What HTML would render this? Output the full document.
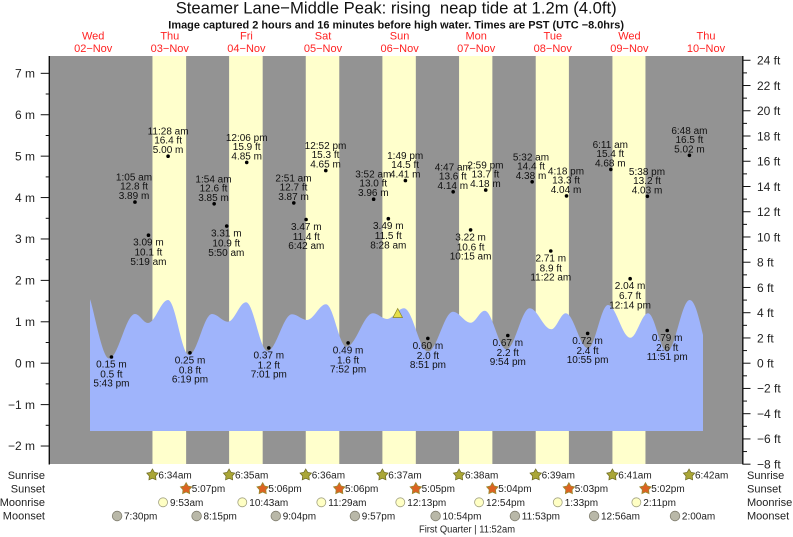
<!DOCTYPE html>
<html><head><meta charset="utf-8"><style>
html,body{margin:0;padding:0;background:#fff;}
svg{display:block;}
text{font-family:"Liberation Sans",Arial,sans-serif;}
.pre{white-space:pre;}
</style></head><body>
<svg width="793" height="537" viewBox="0 0 793 537" xmlns="http://www.w3.org/2000/svg">
<rect width="793" height="537" fill="#fff"/>
<!-- title -->
<text class="pre" x="175.7" y="13.5" font-size="17" fill="#111" textLength="441" lengthAdjust="spacingAndGlyphs">Steamer Lane−Middle Peak: rising  neap tide at 1.2m (4.0ft)</text>
<text x="168.3" y="28.3" font-size="11" font-weight="bold" fill="#111" textLength="455.7" lengthAdjust="spacingAndGlyphs">Image captured 2 hours and 16 minutes before high water. Times are PST (UTC −8.0hrs)</text>
<!-- day labels -->
<g font-size="11" fill="#f22" text-anchor="middle">
<text x="93.2" y="39.4">Wed</text><text x="93.2" y="51.8">02−Nov</text>
<text x="169.8" y="39.4">Thu</text><text x="169.8" y="51.8">03−Nov</text>
<text x="246.4" y="39.4">Fri</text><text x="246.4" y="51.8">04−Nov</text>
<text x="323" y="39.4">Sat</text><text x="323" y="51.8">05−Nov</text>
<text x="399.6" y="39.4">Sun</text><text x="399.6" y="51.8">06−Nov</text>
<text x="476.2" y="39.4">Mon</text><text x="476.2" y="51.8">07−Nov</text>
<text x="552.8" y="39.4">Tue</text><text x="552.8" y="51.8">08−Nov</text>
<text x="629.4" y="39.4">Wed</text><text x="629.4" y="51.8">09−Nov</text>
<text x="706" y="39.4">Thu</text><text x="706" y="51.8">10−Nov</text>
</g>
<!-- plot background -->
<rect x="50" y="56" width="693" height="408" fill="#939393"/>
<g fill="#ffffcc">
<rect x="152.46" y="56" width="33.67" height="408"/>
<rect x="229.1" y="56" width="33.58" height="408"/>
<rect x="305.76" y="56" width="33.52" height="408"/>
<rect x="382.4" y="56" width="33.42" height="408"/>
<rect x="459.07" y="56" width="33.3" height="408"/>
<rect x="535.72" y="56" width="33.18" height="408"/>
<rect x="612.43" y="56" width="33.03" height="408"/>
</g>
<!-- tide area -->
<path fill="#9fb4fb" d="M90,431 L90,299.3 C94,310 102.2,358.5 109,358.5 C118.4,358.5 125.6,314 135,314 C139.7,314 143.3,323 148,323 C155.2,323 160.8,300 168,300 C175.6,300 181.4,355 189,355 C197.3,355 203.7,314 212,314 C217.8,314 222.2,321.7 228,321.7 C234.5,321.7 239.5,302.3 246,302.3 C253.7,302.3 259.8,351 267.5,351 C276.3,351 283.2,314.3 292,314.3 C297.4,314.3 301.6,320 307,320 C313.8,320 319.2,304.3 326,304.3 C333.4,304.3 339.1,346.7 346.5,346.7 C356,346.7 363.5,313.3 373,313.3 C378,313.3 382,319 387,319 C393.1,319 397.9,308.3 404,308.3 C412.6,308.3 419.4,351.5 428,351.5 C437,351.5 444,311.7 453,311.7 C459.4,311.7 464.3,322.7 470.7,322.7 C475.7,322.7 479.7,310.7 484.7,310.7 C492.5,310.7 498.7,349.3 506.5,349.3 C514.9,349.3 521.4,308.3 529.7,308.3 C537.5,308.3 543.5,329.3 551.3,329.3 C556.5,329.3 560.5,313.3 565.7,313.3 C573.7,313.3 580,348.3 588,348.3 C595.2,348.3 600.8,305 608,305 C616,305 622.3,337.7 630.3,337.7 C636.7,337.7 641.6,313.3 648,313.3 C654.8,313.3 660.2,351.7 667,351.7 C675.2,351.7 681.5,300 689.7,300 C695,300 699,318 703,335 L703,431 Z"/>
<!-- current marker -->
<polygon points="397.7,308.5 393,317.5 402.5,317.5" fill="#e6e04a" stroke="#8a8420" stroke-width="0.7"/>
<!-- axes -->
<g stroke="#111" stroke-width="1.4">
<line x1="49.3" y1="56" x2="49.3" y2="464.5"/>
<line x1="742.8" y1="56" x2="742.8" y2="464.5"/>
</g>
<g stroke="#111" stroke-width="1">
<line x1="40.7" y1="73.33" x2="49" y2="73.33"/><line x1="45.7" y1="94.0" x2="49" y2="94.0"/>
<line x1="40.7" y1="114.74" x2="49" y2="114.74"/><line x1="45.7" y1="135.5" x2="49" y2="135.5"/>
<line x1="40.7" y1="156.15" x2="49" y2="156.15"/><line x1="45.7" y1="176.9" x2="49" y2="176.9"/>
<line x1="40.7" y1="197.56" x2="49" y2="197.56"/><line x1="45.7" y1="218.3" x2="49" y2="218.3"/>
<line x1="40.7" y1="238.97" x2="49" y2="238.97"/><line x1="45.7" y1="259.7" x2="49" y2="259.7"/>
<line x1="40.7" y1="280.38" x2="49" y2="280.38"/><line x1="45.7" y1="301.1" x2="49" y2="301.1"/>
<line x1="40.7" y1="321.79" x2="49" y2="321.79"/><line x1="45.7" y1="342.5" x2="49" y2="342.5"/>
<line x1="40.7" y1="363.2" x2="49" y2="363.2"/><line x1="45.7" y1="383.9" x2="49" y2="383.9"/>
<line x1="40.7" y1="404.61" x2="49" y2="404.61"/><line x1="45.7" y1="425.3" x2="49" y2="425.3"/>
<line x1="40.7" y1="446.02" x2="49" y2="446.02"/>
<!-- right ticks -->
<line x1="743" y1="60.27" x2="750.5" y2="60.27"/><line x1="743" y1="72.89" x2="747" y2="72.89"/>
<line x1="743" y1="85.52" x2="750.5" y2="85.52"/><line x1="743" y1="98.14" x2="747" y2="98.14"/>
<line x1="743" y1="110.76" x2="750.5" y2="110.76"/><line x1="743" y1="123.38" x2="747" y2="123.38"/>
<line x1="743" y1="136.0" x2="750.5" y2="136.0"/><line x1="743" y1="148.63" x2="747" y2="148.63"/>
<line x1="743" y1="161.25" x2="750.5" y2="161.25"/><line x1="743" y1="173.87" x2="747" y2="173.87"/>
<line x1="743" y1="186.49" x2="750.5" y2="186.49"/><line x1="743" y1="199.11" x2="747" y2="199.11"/>
<line x1="743" y1="211.74" x2="750.5" y2="211.74"/><line x1="743" y1="224.36" x2="747" y2="224.36"/>
<line x1="743" y1="236.98" x2="750.5" y2="236.98"/><line x1="743" y1="249.6" x2="747" y2="249.6"/>
<line x1="743" y1="262.22" x2="750.5" y2="262.22"/><line x1="743" y1="274.85" x2="747" y2="274.85"/>
<line x1="743" y1="287.47" x2="750.5" y2="287.47"/><line x1="743" y1="300.09" x2="747" y2="300.09"/>
<line x1="743" y1="312.71" x2="750.5" y2="312.71"/><line x1="743" y1="325.33" x2="747" y2="325.33"/>
<line x1="743" y1="337.96" x2="750.5" y2="337.96"/><line x1="743" y1="350.58" x2="747" y2="350.58"/>
<line x1="743" y1="363.2" x2="750.5" y2="363.2"/><line x1="743" y1="375.82" x2="747" y2="375.82"/>
<line x1="743" y1="388.44" x2="750.5" y2="388.44"/><line x1="743" y1="401.07" x2="747" y2="401.07"/>
<line x1="743" y1="413.69" x2="750.5" y2="413.69"/><line x1="743" y1="426.31" x2="747" y2="426.31"/>
<line x1="743" y1="438.93" x2="750.5" y2="438.93"/><line x1="743" y1="451.55" x2="747" y2="451.55"/>
<line x1="743" y1="464.18" x2="750.5" y2="464.18"/>
</g>
<g font-size="12" fill="#222" text-anchor="end">
<text x="35" y="77.6">7 m</text>
<text x="35" y="119">6 m</text>
<text x="35" y="160.4">5 m</text>
<text x="35" y="201.8">4 m</text>
<text x="35" y="243.2">3 m</text>
<text x="35" y="284.6">2 m</text>
<text x="35" y="326">1 m</text>
<text x="35" y="367.4">0 m</text>
<text x="35" y="408.8">−1 m</text>
<text x="35" y="450.2">−2 m</text>
</g>
<g font-size="12" fill="#222">
<text x="757" y="64.5">24 ft</text>
<text x="757" y="89.8">22 ft</text>
<text x="757" y="115">20 ft</text>
<text x="757" y="140.3">18 ft</text>
<text x="757" y="165.5">16 ft</text>
<text x="757" y="190.8">14 ft</text>
<text x="757" y="216">12 ft</text>
<text x="757" y="241.3">10 ft</text>
<text x="757" y="266.5">8 ft</text>
<text x="757" y="291.8">6 ft</text>
<text x="757" y="317">4 ft</text>
<text x="757" y="342.3">2 ft</text>
<text x="757" y="367.5">0 ft</text>
<text x="757" y="392.7">−2 ft</text>
<text x="757" y="418">−4 ft</text>
<text x="757" y="443.2">−6 ft</text>
<text x="757" y="468.4">−8 ft</text>
</g>
<!-- dots -->
<g fill="#000">
<circle cx="111.45" cy="357.0" r="1.8"/><circle cx="134.96" cy="202.1" r="1.8"/>
<circle cx="148.47" cy="235.2" r="1.8"/><circle cx="168.1" cy="156.2" r="1.8"/>
<circle cx="189.96" cy="352.8" r="1.8"/><circle cx="214.16" cy="203.8" r="1.8"/>
<circle cx="226.72" cy="226.1" r="1.8"/><circle cx="246.72" cy="162.4" r="1.8"/>
<circle cx="268.8" cy="347.9" r="1.8"/><circle cx="293.8" cy="202.9" r="1.8"/>
<circle cx="306.08" cy="219.5" r="1.8"/><circle cx="325.77" cy="170.6" r="1.8"/>
<circle cx="348.11" cy="342.9" r="1.8"/><circle cx="373.64" cy="199.2" r="1.8"/>
<circle cx="388.32" cy="218.7" r="1.8"/><circle cx="405.4" cy="180.6" r="1.8"/>
<circle cx="427.85" cy="338.4" r="1.8"/><circle cx="453.17" cy="191.8" r="1.8"/>
<circle cx="470.61" cy="229.9" r="1.8"/><circle cx="485.72" cy="190.1" r="1.8"/>
<circle cx="507.8" cy="335.5" r="1.8"/><circle cx="532.16" cy="181.8" r="1.8"/>
<circle cx="550.78" cy="251.0" r="1.8"/><circle cx="566.52" cy="195.9" r="1.8"/>
<circle cx="587.64" cy="333.4" r="1.8"/><circle cx="610.83" cy="169.4" r="1.8"/>
<circle cx="630.14" cy="278.7" r="1.8"/><circle cx="647.38" cy="196.3" r="1.8"/>
<circle cx="667.22" cy="330.5" r="1.8"/><circle cx="689.4" cy="155.3" r="1.8"/>
</g>
<!-- high labels -->
<g font-size="10" fill="#111" text-anchor="middle">
<text x="134" y="180.6">1:05 am</text><text x="134" y="189.6">12.8 ft</text><text x="134" y="199.1">3.89 m</text>
<text x="168.1" y="134.7">11:28 am</text><text x="168.1" y="143.7">16.4 ft</text><text x="168.1" y="153.2">5.00 m</text>
<text x="213.5" y="182.3">1:54 am</text><text x="213.5" y="191.3">12.6 ft</text><text x="213.5" y="200.8">3.85 m</text>
<text x="246.7" y="140.9">12:06 pm</text><text x="246.7" y="149.9">15.9 ft</text><text x="246.7" y="159.4">4.85 m</text>
<text x="293.5" y="181.4">2:51 am</text><text x="293.5" y="190.4">12.7 ft</text><text x="293.5" y="199.9">3.87 m</text>
<text x="325.5" y="149.1">12:52 pm</text><text x="325.5" y="158.1">15.3 ft</text><text x="325.5" y="167.6">4.65 m</text>
<text x="373.3" y="177.7">3:52 am</text><text x="373.3" y="186.7">13.0 ft</text><text x="373.3" y="196.2">3.96 m</text>
<text x="405.2" y="159.1">1:49 pm</text><text x="405.2" y="168.1">14.5 ft</text><text x="405.2" y="177.6">4.41 m</text>
<text x="452.8" y="170.3">4:47 am</text><text x="452.8" y="179.3">13.6 ft</text><text x="452.8" y="188.8">4.14 m</text>
<text x="485.4" y="168.6">2:59 pm</text><text x="485.4" y="177.6">13.7 ft</text><text x="485.4" y="187.1">4.18 m</text>
<text x="531" y="160.3">5:32 am</text><text x="531" y="169.3">14.4 ft</text><text x="531" y="178.8">4.38 m</text>
<text x="566" y="174.4">4:18 pm</text><text x="566" y="183.4">13.3 ft</text><text x="566" y="192.9">4.04 m</text>
<text x="610.3" y="147.9">6:11 am</text><text x="610.3" y="156.9">15.4 ft</text><text x="610.3" y="166.4">4.68 m</text>
<text x="647" y="174.8">5:38 pm</text><text x="647" y="183.8">13.2 ft</text><text x="647" y="193.3">4.03 m</text>
<text x="689.4" y="133.8">6:48 am</text><text x="689.4" y="142.8">16.5 ft</text><text x="689.4" y="152.3">5.02 m</text>
</g>
<!-- low labels -->
<g font-size="10" fill="#111" text-anchor="middle">
<text x="111.4" y="367.5">0.15 m</text><text x="111.4" y="377.5">0.5 ft</text><text x="111.4" y="386.7">5:43 pm</text>
<text x="148.4" y="245.7">3.09 m</text><text x="148.4" y="255.7">10.1 ft</text><text x="148.4" y="264.9">5:19 am</text>
<text x="190" y="363.3">0.25 m</text><text x="190" y="373.3">0.8 ft</text><text x="190" y="382.5">6:19 pm</text>
<text x="226.3" y="236.6">3.31 m</text><text x="226.3" y="246.6">10.9 ft</text><text x="226.3" y="255.8">5:50 am</text>
<text x="268.8" y="358.4">0.37 m</text><text x="268.8" y="368.4">1.2 ft</text><text x="268.8" y="377.6">7:01 pm</text>
<text x="306.3" y="230">3.47 m</text><text x="306.3" y="240">11.4 ft</text><text x="306.3" y="249.2">6:42 am</text>
<text x="348.1" y="353.4">0.49 m</text><text x="348.1" y="363.4">1.6 ft</text><text x="348.1" y="372.6">7:52 pm</text>
<text x="388.3" y="229.2">3.49 m</text><text x="388.3" y="239.2">11.5 ft</text><text x="388.3" y="248.4">8:28 am</text>
<text x="427.9" y="348.9">0.60 m</text><text x="427.9" y="358.9">2.0 ft</text><text x="427.9" y="368.1">8:51 pm</text>
<text x="470.6" y="240.4">3.22 m</text><text x="470.6" y="250.4">10.6 ft</text><text x="470.6" y="259.6">10:15 am</text>
<text x="507.8" y="346">0.67 m</text><text x="507.8" y="356">2.2 ft</text><text x="507.8" y="365.2">9:54 pm</text>
<text x="550.8" y="261.5">2.71 m</text><text x="550.8" y="271.5">8.9 ft</text><text x="550.8" y="280.7">11:22 am</text>
<text x="587.6" y="343.9">0.72 m</text><text x="587.6" y="353.9">2.4 ft</text><text x="587.6" y="363.1">10:55 pm</text>
<text x="630.1" y="289.2">2.04 m</text><text x="630.1" y="299.2">6.7 ft</text><text x="630.1" y="308.4">12:14 pm</text>
<text x="667.2" y="341">0.79 m</text><text x="667.2" y="351">2.6 ft</text><text x="667.2" y="360.2">11:51 pm</text>
</g>
<!-- bottom row labels -->
<g font-size="11" fill="#222">
<text x="45" y="479" text-anchor="end">Sunrise</text>
<text x="45" y="492.5" text-anchor="end">Sunset</text>
<text x="45" y="506" text-anchor="end">Moonrise</text>
<text x="45" y="519.7" text-anchor="end">Moonset</text>
<text x="747" y="479">Sunrise</text>
<text x="747" y="492.5">Sunset</text>
<text x="747" y="506">Moonrise</text>
<text x="747" y="519.7">Moonset</text>
</g>
<!-- sunrise stars -->
<g fill="#aaa637" stroke="#6b6820" stroke-width="0.7">
<polygon transform="translate(152.46,475)" points="0,-6 1.94,-2.67 5.71,-1.85 3.14,1.02 3.53,4.85 0,3.3 -3.53,4.85 -3.14,1.02 -5.71,-1.85 -1.94,-2.67"/>
<polygon transform="translate(229.1,475)" points="0,-6 1.94,-2.67 5.71,-1.85 3.14,1.02 3.53,4.85 0,3.3 -3.53,4.85 -3.14,1.02 -5.71,-1.85 -1.94,-2.67"/>
<polygon transform="translate(305.76,475)" points="0,-6 1.94,-2.67 5.71,-1.85 3.14,1.02 3.53,4.85 0,3.3 -3.53,4.85 -3.14,1.02 -5.71,-1.85 -1.94,-2.67"/>
<polygon transform="translate(382.4,475)" points="0,-6 1.94,-2.67 5.71,-1.85 3.14,1.02 3.53,4.85 0,3.3 -3.53,4.85 -3.14,1.02 -5.71,-1.85 -1.94,-2.67"/>
<polygon transform="translate(459.07,475)" points="0,-6 1.94,-2.67 5.71,-1.85 3.14,1.02 3.53,4.85 0,3.3 -3.53,4.85 -3.14,1.02 -5.71,-1.85 -1.94,-2.67"/>
<polygon transform="translate(535.72,475)" points="0,-6 1.94,-2.67 5.71,-1.85 3.14,1.02 3.53,4.85 0,3.3 -3.53,4.85 -3.14,1.02 -5.71,-1.85 -1.94,-2.67"/>
<polygon transform="translate(612.43,475)" points="0,-6 1.94,-2.67 5.71,-1.85 3.14,1.02 3.53,4.85 0,3.3 -3.53,4.85 -3.14,1.02 -5.71,-1.85 -1.94,-2.67"/>
<polygon transform="translate(689.08,475)" points="0,-6 1.94,-2.67 5.71,-1.85 3.14,1.02 3.53,4.85 0,3.3 -3.53,4.85 -3.14,1.02 -5.71,-1.85 -1.94,-2.67"/>
</g>
<!-- sunset stars -->
<g fill="#dc6322" stroke="#9a8a30" stroke-width="0.8">
<polygon transform="translate(186.13,488.7)" points="0,-6 1.94,-2.67 5.71,-1.85 3.14,1.02 3.53,4.85 0,3.3 -3.53,4.85 -3.14,1.02 -5.71,-1.85 -1.94,-2.67"/>
<polygon transform="translate(262.68,488.7)" points="0,-6 1.94,-2.67 5.71,-1.85 3.14,1.02 3.53,4.85 0,3.3 -3.53,4.85 -3.14,1.02 -5.71,-1.85 -1.94,-2.67"/>
<polygon transform="translate(339.28,488.7)" points="0,-6 1.94,-2.67 5.71,-1.85 3.14,1.02 3.53,4.85 0,3.3 -3.53,4.85 -3.14,1.02 -5.71,-1.85 -1.94,-2.67"/>
<polygon transform="translate(415.82,488.7)" points="0,-6 1.94,-2.67 5.71,-1.85 3.14,1.02 3.53,4.85 0,3.3 -3.53,4.85 -3.14,1.02 -5.71,-1.85 -1.94,-2.67"/>
<polygon transform="translate(492.37,488.7)" points="0,-6 1.94,-2.67 5.71,-1.85 3.14,1.02 3.53,4.85 0,3.3 -3.53,4.85 -3.14,1.02 -5.71,-1.85 -1.94,-2.67"/>
<polygon transform="translate(568.9,488.7)" points="0,-6 1.94,-2.67 5.71,-1.85 3.14,1.02 3.53,4.85 0,3.3 -3.53,4.85 -3.14,1.02 -5.71,-1.85 -1.94,-2.67"/>
<polygon transform="translate(645.46,488.7)" points="0,-6 1.94,-2.67 5.71,-1.85 3.14,1.02 3.53,4.85 0,3.3 -3.53,4.85 -3.14,1.02 -5.71,-1.85 -1.94,-2.67"/>
</g>
<!-- moonrise -->
<g fill="#ffffc4" stroke="#a0a080" stroke-width="0.8">
<circle cx="163.04" cy="502.3" r="4.5"/><circle cx="242.3" cy="502.3" r="4.5"/>
<circle cx="321.34" cy="502.3" r="4.5"/><circle cx="400.29" cy="502.3" r="4.5"/>
<circle cx="479.07" cy="502.3" r="4.5"/><circle cx="557.74" cy="502.3" r="4.5"/>
<circle cx="636.37" cy="502.3" r="4.5"/>
</g>
<!-- moonset -->
<g fill="#b9b8a8" stroke="#807e70" stroke-width="0.8">
<circle cx="117.1" cy="516" r="4.8"/><circle cx="196.6" cy="516" r="4.8"/>
<circle cx="275.8" cy="516" r="4.8"/><circle cx="354.9" cy="516" r="4.8"/>
<circle cx="435.6" cy="516" r="4.8"/><circle cx="514.9" cy="516" r="4.8"/>
<circle cx="594.1" cy="516" r="4.8"/><circle cx="675" cy="516" r="4.8"/>
</g>
<g font-size="10" fill="#222">
<text x="158.4" y="478.5">6:34am</text><text x="235" y="478.5">6:35am</text>
<text x="311.7" y="478.5">6:36am</text><text x="388.3" y="478.5">6:37am</text>
<text x="465" y="478.5">6:38am</text><text x="541.6" y="478.5">6:39am</text>
<text x="618.3" y="478.5">6:41am</text><text x="695" y="478.5">6:42am</text>
<text x="191.8" y="492.2">5:07pm</text><text x="268.4" y="492.2">5:06pm</text>
<text x="345" y="492.2">5:06pm</text><text x="421.6" y="492.2">5:05pm</text>
<text x="498.2" y="492.2">5:04pm</text><text x="574.7" y="492.2">5:03pm</text>
<text x="651.3" y="492.2">5:02pm</text>
<text x="170" y="505.8">9:53am</text><text x="249.3" y="505.8">10:43am</text>
<text x="328.3" y="505.8">11:29am</text><text x="407.3" y="505.8">12:13pm</text>
<text x="486" y="505.8">12:54pm</text><text x="564.7" y="505.8">1:33pm</text>
<text x="643.3" y="505.8">2:11pm</text>
<text x="124" y="519.5">7:30pm</text><text x="203.5" y="519.5">8:15pm</text>
<text x="282.7" y="519.5">9:04pm</text><text x="361.8" y="519.5">9:57pm</text>
<text x="442.5" y="519.5">10:54pm</text><text x="521.8" y="519.5">11:53pm</text>
<text x="601" y="519.5">12:56am</text><text x="681.9" y="519.5">2:00am</text>
<text x="419" y="532.5" textLength="96" lengthAdjust="spacingAndGlyphs">First Quarter | 11:52am</text>
</g>
</svg>
</body></html>
